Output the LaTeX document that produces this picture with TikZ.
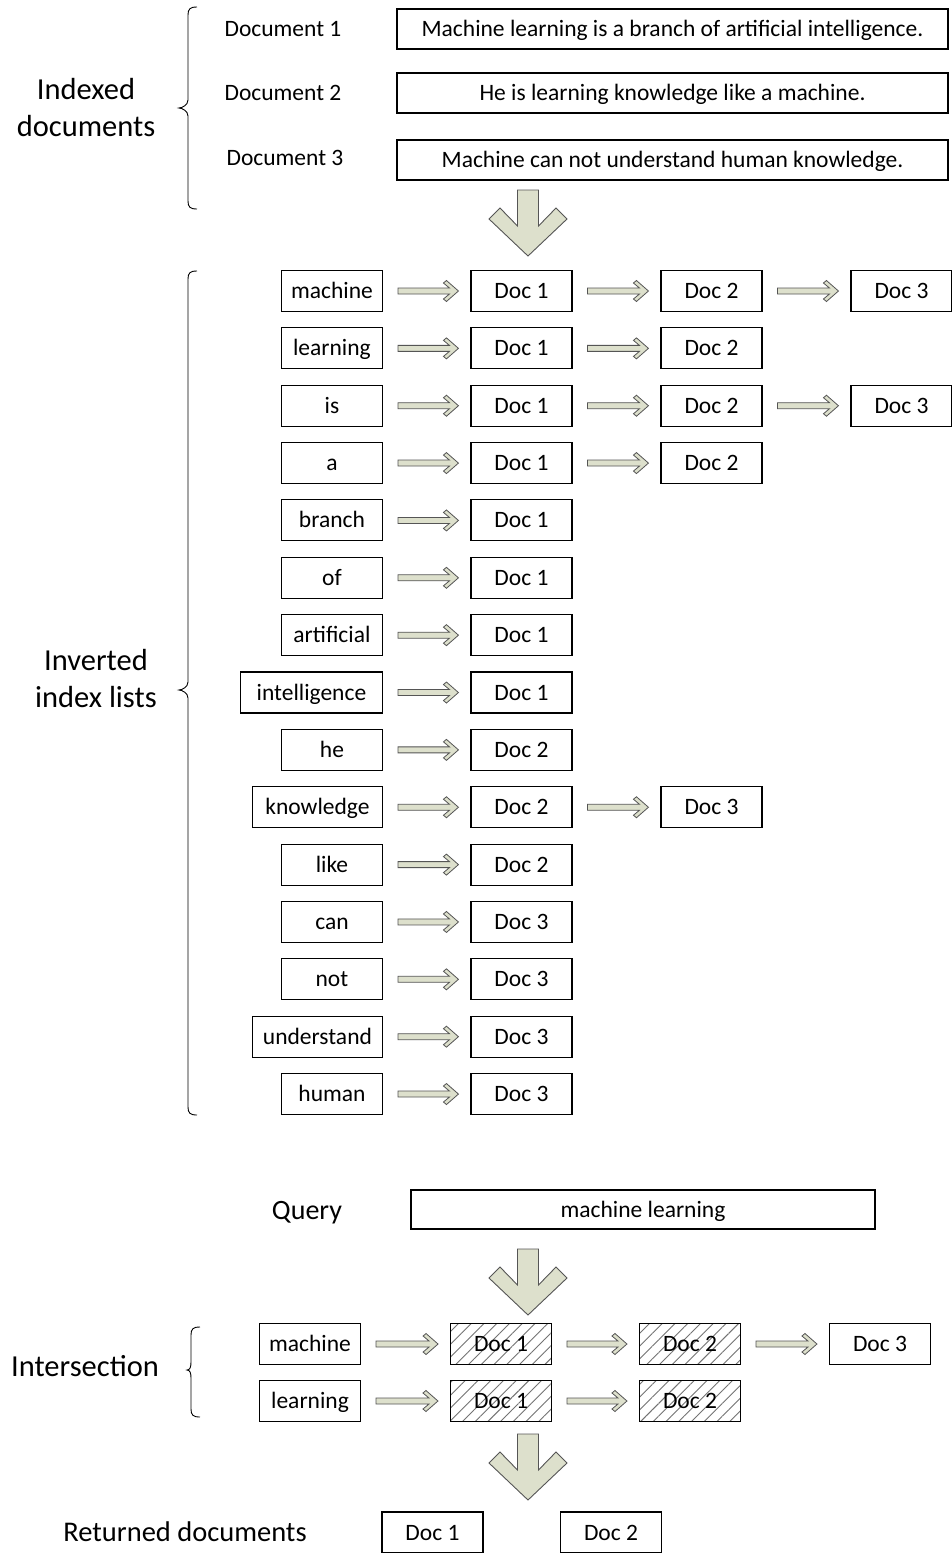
\documentclass[tikz,border=0pt]{standalone}
\usepackage{fontspec}
\setmainfont{Carlito}
\usetikzlibrary{calc,patterns.meta}

\definecolor{arrowfill}{RGB}{221,224,204}
\definecolor{arrowline}{RGB}{85,85,85}

\tikzset{
  wordbox/.style={draw=black, line width=1.1pt, minimum width=101pt, minimum height=41pt,
                  inner sep=0pt, text height=15pt, text depth=0pt,
                  font=\fontsize{23.5}{27}\selectfont},
  hatchbox/.style={wordbox, pattern={Lines[angle=45,distance=9pt,line width=0.9pt]},
                   pattern color=black!55},
  sentbox/.style={wordbox, minimum width=551pt, minimum height=40pt},
  plaintext/.style={font=\fontsize{23.5}{27}\selectfont, inner sep=0pt},
  biglabel/.style={font=\fontsize{30.5}{37}\selectfont, align=center, inner sep=0pt},
  smallarrow/.style={fill=arrowfill, draw=arrowline, line width=0.8pt, line join=miter},
  bigarrow/.style={fill=arrowfill, draw=arrowline, line width=0.9pt, line join=miter},
  bracepath/.style={draw=black, line width=0.9pt},
}

% hollow double-line arrow between two named nodes
\newcommand\flowarrow[2]{%
  \path[smallarrow] let \p1=($(#1.east)+(15,0)$), \p2=($(#2.west)+(-12,0)$) in
    (\x1,\y1-3pt) -- (\x2-9pt,\y1-3pt) -- (\x2-15pt,\y1-8pt) -- (\x2-12pt,\y1-10.5pt)
    -- (\x2,\y1) -- (\x2-12pt,\y1+10.5pt) -- (\x2-15pt,\y1+8pt) -- (\x2-9pt,\y1+3pt)
    -- (\x1,\y1+3pt) -- cycle;}

% wide downward block arrow hanging from a named coordinate
\newcommand\blockarrow[1]{%
  \draw[bigarrow, shift={(#1)}] (-10.5,0) -- (10.5,0) -- (10.5,36) -- (28,18) -- (39,29)
    -- (0,66) -- (-39,29) -- (-28,18) -- (-10.5,36) -- cycle;}

% left curly brace: end x, line x, tip x, top y, tip y, bottom y
\newcommand\leftbrace[6]{%
  \draw[bracepath] (#1,#4) .. controls (#2+2,#4) and (#2,#4+2) .. (#2,#4+8)
    -- (#2,#5-8) .. controls (#2,#5-3) and (#3+3,#5) .. (#3,#5)
    .. controls (#3+3,#5) and (#2,#5+3) .. (#2,#5+8)
    -- (#2,#6-8) .. controls (#2,#6-2) and (#2+2,#6) .. (#1,#6);}

% one posting list: row index, term, box width, documents
\newcommand\indexrow[4]{%
  \pgfmathsetmacro\rowy{291+57.36*#1}
  \node[wordbox, minimum width=#3pt, anchor=east] (w#1) at (383,\rowy) {#2};
  \foreach \d [count=\c] in {#4} {
    \pgfmathsetmacro\colx{{521.5,711.5,901.5}[\c-1]}
    \node[wordbox] (d#1c\c) at (\colx,\rowy) {Doc \d};
    \ifnum\c=1 \flowarrow{w#1}{d#1c\c}\else
      \pgfmathtruncatemacro\pc{\c-1}\flowarrow{d#1c\pc}{d#1c\c}\fi
  }}

\begin{document}
\begin{tikzpicture}[x=1pt,y=-1pt]
\useasboundingbox (0,0) rectangle (951,1553);
\fill[white] (0,0) rectangle (951,1553);

% ---- indexed documents ----
\node[biglabel] (lblidx) at (86,108) {Indexed\\documents};
\leftbrace{197}{188}{179}{7}{108}{209}
\node[plaintext] (n1) at (283,29) {Document 1};
\node[plaintext] (n2) at (283,93) {Document 2};
\node[plaintext] (n3) at (285,158) {Document 3};
\node[sentbox] (s1) at (672.5,29) {Machine learning is a branch of artificial intelligence.};
\node[sentbox] (s2) at (672.5,93) {He is learning knowledge like a machine.};
\node[sentbox] (s3) at (672.5,160) {Machine can not understand human knowledge.};

\coordinate (arrA) at (528,190);
\blockarrow{arrA}

% ---- inverted index ----
\node[biglabel] (lblinv) at (96,679) {Inverted\\index lists};
\leftbrace{197}{188}{179}{271}{690}{1115}
\indexrow{0}{machine}{101}{1,2,3}
\indexrow{1}{learning}{101}{1,2}
\indexrow{2}{is}{101}{1,2,3}
\indexrow{3}{a}{101}{1,2}
\indexrow{4}{branch}{101}{1}
\indexrow{5}{of}{101}{1}
\indexrow{6}{artificial}{101}{1}
\indexrow{7}{intelligence}{142}{1}
\indexrow{8}{he}{101}{2}
\indexrow{9}{knowledge}{130}{2,3}
\indexrow{10}{like}{101}{2}
\indexrow{11}{can}{101}{3}
\indexrow{12}{not}{101}{3}
\indexrow{13}{understand}{130}{3}
\indexrow{14}{human}{101}{3}

% ---- query ----
\node[font=\fontsize{28}{34}\selectfont, inner sep=0pt] (lblq) at (307,1213) {Query};
\node[wordbox, minimum width=464pt, minimum height=39pt] (query) at (643,1209.5) {machine learning};

\coordinate (arrB) at (528,1249);
\blockarrow{arrB}

% ---- intersection ----
\node[biglabel] (lblint) at (85,1366) {Intersection};
\leftbrace{200}{191}{187}{1327}{1370}{1417}
\node[wordbox] (qm) at (310,1344) {machine};
\node[hatchbox] (qm1) at (501,1344) {Doc 1};
\node[hatchbox] (qm2) at (690,1344) {Doc 2};
\node[wordbox] (qm3) at (880,1344) {Doc 3};
\node[wordbox] (ql) at (310,1401) {learning};
\node[hatchbox] (ql1) at (501,1401) {Doc 1};
\node[hatchbox] (ql2) at (690,1401) {Doc 2};
\flowarrow{qm}{qm1}
\flowarrow{qm1}{qm2}
\flowarrow{qm2}{qm3}
\flowarrow{ql}{ql1}
\flowarrow{ql1}{ql2}

\coordinate (arrC) at (528,1434);
\blockarrow{arrC}

% ---- result ----
\node[font=\fontsize{28.5}{34}\selectfont, inner sep=0pt] (lblret) at (185,1532) {Returned documents};
\node[wordbox] (r1) at (432.5,1532.5) {Doc 1};
\node[wordbox] (r2) at (611,1532.5) {Doc 2};
\end{tikzpicture}
\end{document}
